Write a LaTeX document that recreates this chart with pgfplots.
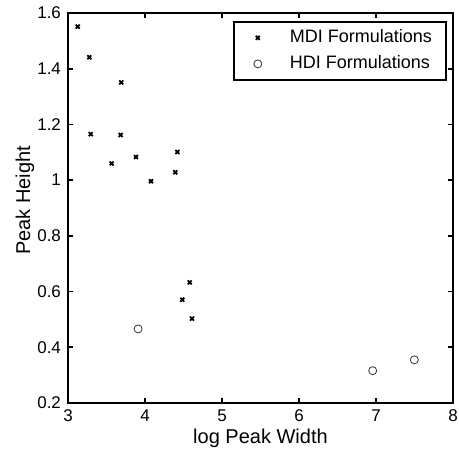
\documentclass[border=0pt]{standalone}
\usepackage{fontspec}
\setmainfont{Liberation Sans}
\usepackage{pgfplots}
\pgfplotsset{compat=1.18}
\pgfplotsset{legmark/.style={legend image code/.code={\path[draw=none,fill=none] (0pt,0pt) -- (21pt,0pt);
    \draw[##1] plot coordinates {(7pt,0pt)};}}}

\begin{document}
\begin{tikzpicture}
\path[use as bounding box] (-34pt,-24pt) rectangle (195.5pt,201.5pt);
\begin{axis}[
  scale only axis,
  width=192.5pt, height=195pt,
  xmin=3, xmax=8, ymin=0.2, ymax=1.6,
  xtick={3,4,5,6,7,8},
  ytick={0.2,0.4,0.6,0.8,1,1.2,1.4,1.6},
  yticklabels={0.2,0.4,0.6,0.8,1,1.2,1.4,1.6},
  tick align=inside,
  major tick length=2.5pt,
  axis line style={line width=1pt},
  every tick/.style={black, line width=0.8pt},
  /pgf/number format/assume math mode=true,
  tick label style={font=\fontsize{8.5}{10}\selectfont},
  label style={font=\fontsize{9}{11}\selectfont},
  xlabel={log Peak Width},
  ylabel={Peak Height},
  every axis x label/.style={at={(axis description cs:0.5,-0.09)}, anchor=center},
  every axis y label/.style={at={(axis description cs:-0.112,0.52)}, anchor=center, rotate=90},
  legend style={at={(axis description cs:0.984,0.98)}, anchor=north east,
    draw=black, line width=1pt, font=\fontsize{9}{11}\selectfont,
    inner xsep=5pt, inner ysep=2pt, row sep=1pt},
  legend cell align=left,
]
\addplot[only marks, mark=x, mark size=1.4pt, line width=0.9pt, black, legmark] coordinates {
  (3.126,1.551) (3.277,1.441) (3.692,1.351) (3.295,1.165) (3.684,1.162)
  (3.567,1.060) (3.883,1.083) (4.078,0.996) (4.420,1.101) (4.394,1.028)
  (4.580,0.633) (4.485,0.571) (4.610,0.503)
};
\addlegendentry{MDI Formulations}
\addplot[only marks, mark=o, mark size=2pt, line width=0.4pt, black!80, legmark] coordinates {
  (3.910,0.466) (6.957,0.316) (7.498,0.355)
};
\addlegendentry{HDI Formulations}
\end{axis}
\end{tikzpicture}
\end{document}
